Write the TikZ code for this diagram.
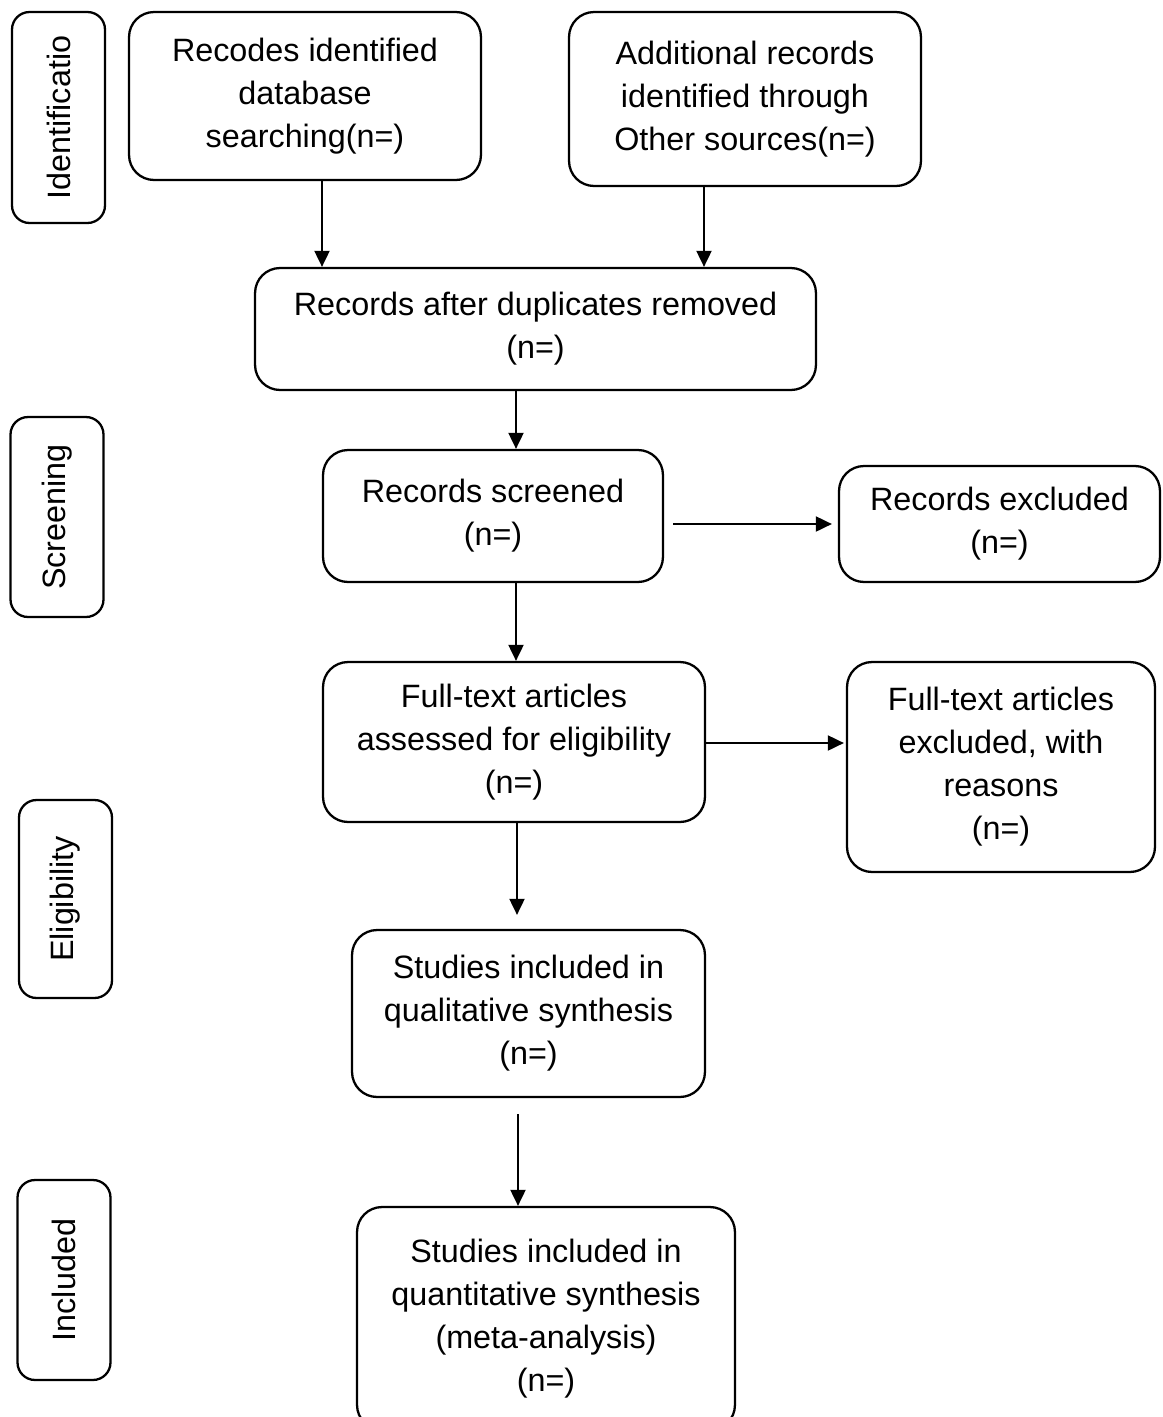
\documentclass[tikz,border=0pt]{standalone}
\usepackage{fontspec}
\setmainfont{Liberation Sans}
\usetikzlibrary{arrows.meta}

\begin{document}
\begin{tikzpicture}[
            x=0.02cm, y=-0.02cm,
            box/.style={draw, rounded corners=0.5cm, line width=1.3pt, align=center,
                inner sep=0pt, font=\fontsize{18.4}{24.5}\selectfont},
            phase/.style={box, rounded corners=0.35cm, rotate=90, minimum height=1.86cm},
            arr/.style={-{Triangle[length=0.32cm, width=0.3cm]}, line width=1.1pt}
            ]
        \useasboundingbox (0,0) rectangle (1163,1417);
        \clip (0,0) rectangle (1163,1417);

        % Fasi
        \node[phase, minimum width=4.22cm] (ident) at (58.5,117.5) {Identificatio};
        \node[phase, minimum width=4.0cm] (screen) at (57,517) {Screening};
        \node[phase, minimum width=3.96cm] (elig) at (65.5,899) {Eligibility};
        \node[phase, minimum width=4.0cm] (incl) at (64,1280) {Included};

        % Blocchi
        \node[box, minimum width=7.04cm, minimum height=3.36cm] (db) at (305,96)
            {Recodes identified\\database\\searching(n=)};
        \node[box, minimum width=7.04cm, minimum height=3.48cm] (other) at (745,99)
            {Additional records\\identified through\\Other sources(n=)};
        \node[box, minimum width=11.22cm, minimum height=2.44cm] (dup) at (535.5,329)
            {Records after duplicates removed\\(n=)};
        \node[box, minimum width=6.8cm, minimum height=2.64cm] (scr) at (493,516)
            {Records screened\\(n=)};
        \node[box, minimum width=6.42cm, minimum height=2.32cm] (exc) at (999.5,524)
            {Records excluded\\(n=)};
        \node[box, minimum width=7.64cm, minimum height=3.2cm] (full) at (514,742)
            {Full-text articles\\assessed for eligibility\\(n=)};
        \node[box, minimum width=6.16cm, minimum height=4.2cm] (fexc) at (1001,767)
            {Full-text articles\\excluded, with\\reasons\\(n=)};
        \node[box, minimum width=7.06cm, minimum height=3.34cm] (qual) at (528.5,1013.5)
            {Studies included in\\qualitative synthesis\\(n=)};
        \node[box, minimum width=7.56cm, minimum height=4.46cm] (quant) at (546,1318.5)
            {Studies included in\\quantitative synthesis\\(meta-analysis)\\(n=)};

        % Frecce
        \draw[arr] (db.south -| 322,0) -- (dup.north -| 322,0);
        \draw[arr] (other.south -| 704,0) -- (dup.north -| 704,0);
        \draw[arr] (dup.south -| 516,0) -- (scr.north -| 516,0);
        \draw[arr, shorten <=0.18cm, shorten >=0.12cm] (scr.east |- 0,524) -- (exc.west |- 0,524);
        \draw[arr] (scr.south -| 516,0) -- (full.north -| 516,0);
        \draw[arr, shorten >=0.04cm] (full.east |- 0,743) -- (fexc.west |- 0,743);
        \draw[arr, shorten >=0.28cm] (full.south -| 517,0) -- (qual.north -| 517,0);
        \draw[arr, shorten <=0.32cm] (qual.south -| 518,0) -- (quant.north -| 518,0);
        \end{tikzpicture}
\end{document}
